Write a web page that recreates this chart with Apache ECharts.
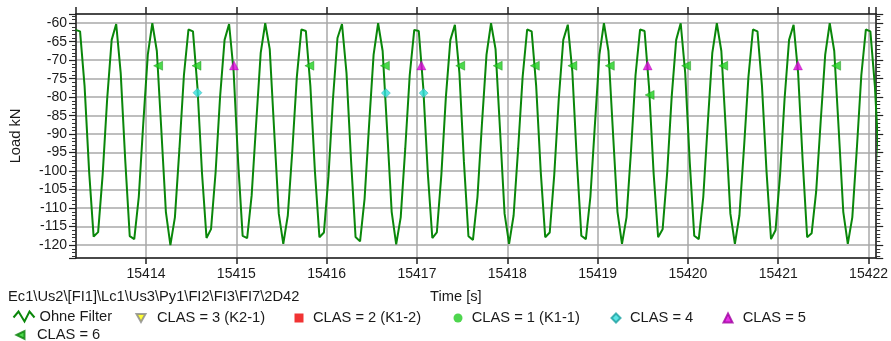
<!DOCTYPE html>
<html>
<head>
<meta charset="utf-8">
<script src="https://cdn.jsdelivr.net/npm/echarts@6/dist/echarts.min.js"></script>
<style>
  html, body { margin: 0; padding: 0; background: #fff; }
  #chart { width: 891px; height: 341px; }
</style>
</head>
<body>
<div id="chart"></div>
<script>
// sampled load signal, 20 Hz
const sampleStart = 15413.22
const sampleStep = 0.05
const loadValues = [
  -61.8, -62.2, -77, -100, -117.7, -116.5, -101, -80.5, -64.5, -60.2, -73.5, -97, -117.6, -118.4, -107, -87, -68.5, -60.0, -67.5, -89, -111, -120, -112.5, -94, -74,
  -61.7, -62.2, -77.5, -100.5, -118.1, -115.7, -100.5, -80, -64.5, -60.2, -73, -97.5, -117.5, -118.1, -106.5, -87, -68, -60.0, -67, -89.5, -111.5, -119.7, -112, -94.5, -74.5,
  -61.7, -62.1, -77, -100, -117.9, -116.6, -101.5, -80.5, -64, -60.2, -73.5, -97, -117.8, -119, -107.5, -87.5, -68.5, -60.0, -67.5, -89, -111, -119.8, -112.5, -94, -74,
  -61.8, -62.1, -77.5, -100.5, -118.1, -116.6, -101, -80, -64.5, -60.4, -73.5, -97.5, -117.6, -118.6, -107, -87, -68.5, -60.0, -67, -89, -111.5, -119.7, -112, -94, -74.5,
  -61.7, -62.2, -77, -100, -117.9, -116.6, -101, -80.5, -64.5, -60.4, -73, -97, -117.5, -118.4, -107, -87.5, -68.5, -60.0, -67.5, -89.5, -111, -119.7, -112.5, -94.5, -74,
  -61.7, -62.1, -77.5, -100.5, -117.9, -115.7, -100.5, -80, -64.5, -60.0, -73.5, -97.5, -117.5, -118.4, -107, -87, -68, -60.0, -67.5, -89, -111.5, -119.7, -112, -94, -74.5,
  -61.7, -62.2, -77, -100, -118.4, -116, -101, -80.5, -64.5, -60.4, -73.5, -97, -117.9, -116.8, -105.5, -86.5, -68.5, -60.0, -67.5, -89, -111, -119.7, -112.5, -94, -74,
  -61.7, -62.2, -77, -100
]

// classified events
const clas6Times = [15414.134, 15414.559, 15415.809, 15416.645, 15417.479, 15417.894, 15418.305, 15418.721, 15419.135, 15419.576, 15419.980, 15420.391, 15421.641]
const clas6Loads = [-71.5, -71.5, -71.5, -71.5, -71.5, -71.5, -71.5, -71.5, -71.5, -79.4, -71.5, -71.5, -71.5]
const clas4Times = [15414.570, 15416.656, 15417.074]
const clas4Loads = [-78.8, -78.9, -78.9]
const clas5Times = [15414.974, 15417.049, 15419.554, 15421.218]
const clas5Loads = [-71.4, -71.4, -71.4, -71.4]

const xMin = 15413.225
const xMax = 15422.085
const yMin = -123.5
const yMax = -57.5

const lineColor = '#0a870a'
const fontFam = '"Liberation Sans", Arial, sans-serif'
const textCol = '#1a1a1a'
const smallFont = 14.7

const pairs = (xs, ys) => xs.map((x, i) => [x, ys[i]])
const lineData = loadValues.map((v, i) => [sampleStart + i * sampleStep, v])

const iconWave = 'path://M0,7 L5,1 L11,11 L16,1 L21,7'
const iconDown = 'path://M0,0 L10,0 L5,9 Z'
const iconLeft = 'path://M0,5 L10,0 L10,10 Z'

// one legend per entry so each sits where the original puts it
function legendItem (name, icon, left, top, size, textPad, extra) {
  return Object.assign({
    data: [{ name: name, icon: icon }],
    left: left,
    top: top,
    padding: 0,
    itemWidth: size,
    itemHeight: size,
    selectedMode: false,
    textStyle: { fontSize: smallFont, color: textCol, fontFamily: fontFam, padding: [0, 0, 0, textPad] }
  }, extra || {})
}

const gridLine = { show: true, lineStyle: { color: '#a9a9a9', width: 1.5 } }
const axisLn = { show: true, lineStyle: { color: '#222', width: 1.5 } }

const chart = echarts.init(document.getElementById('chart'))
chart.setOption({
  animation: false,
  textStyle: { fontFamily: fontFam },
  grid: { left: 73, right: 14, top: 14, bottom: 83 },
  graphic: [
    { type: 'text', left: 8, top: 289, style: { text: 'Ec1\\Us2\\[FI1]\\Lc1\\Us3\\Py1\\FI2\\FI3\\FI7\\2D42', fontSize: smallFont, fill: textCol, fontFamily: fontFam } },
    { type: 'text', left: 430, top: 289, style: { text: 'Time [s]', fontSize: smallFont, fill: textCol, fontFamily: fontFam } }
  ],
  legend: [
    legendItem('Ohne Filter', iconWave, 11, 309, 21, 0, { itemHeight: 12, itemStyle: { color: 'none', borderColor: lineColor, borderWidth: 2 } }),
    legendItem('CLAS = 3 (K2-1)', iconDown, 135.5, 310.5, 9, 6.5),
    legendItem('CLAS = 2 (K1-2)', 'rect', 294.5, 310.5, 9, 4.5),
    legendItem('CLAS = 1 (K1-1)', 'circle', 453.5, 310.5, 9, 4.2),
    legendItem('CLAS = 4', 'diamond', 610.5, 310.5, 9, 4.5),
    legendItem('CLAS = 5', 'triangle', 722.5, 310.5, 9, 5.2),
    legendItem('CLAS = 6', iconLeft, 15.5, 327.5, 8, 7.5)
  ],
  xAxis: [
    {
      type: 'value', min: xMin, max: xMax, splitNumber: 9,
      axisLine: axisLn,
      axisTick: { show: true, length: 6, lineStyle: { color: '#222', width: 1.5 } },
      axisLabel: { showMinLabel: false, showMaxLabel: false, margin: 9, fontSize: 14, color: textCol, formatter: v => String(v) },
      splitLine: gridLine
    },
    {
      type: 'value', position: 'top', min: xMin, max: xMax, splitNumber: 9,
      axisLine: axisLn,
      axisTick: { show: true, length: 7, lineStyle: { color: '#222', width: 1.5 } },
      axisLabel: { show: false },
      splitLine: { show: false }
    }
  ],
  yAxis: [
    {
      type: 'value', min: yMin, max: yMax, splitNumber: 13,
      name: 'Load kN', nameLocation: 'middle', nameRotate: 90, nameGap: 53,
      nameTextStyle: { fontSize: smallFont, color: textCol },
      axisLine: axisLn,
      axisTick: { show: true, length: 7, lineStyle: { color: '#222', width: 1.2 } },
      minorTick: { show: true, splitNumber: 5, length: 4, lineStyle: { color: '#333', width: 1 } },
      axisLabel: { showMinLabel: false, showMaxLabel: false, margin: 9, fontSize: 14, color: textCol },
      splitLine: gridLine
    },
    {
      type: 'value', position: 'right', min: yMin, max: yMax, splitNumber: 13,
      axisLine: axisLn,
      axisTick: { show: true, length: 7, lineStyle: { color: '#222', width: 1.2 } },
      minorTick: { show: true, splitNumber: 5, length: 4, lineStyle: { color: '#333', width: 1 } },
      axisLabel: { show: false },
      splitLine: { show: false }
    }
  ],
  series: [
    {
      name: 'Ohne Filter', type: 'line', data: lineData, symbol: 'none',
      lineStyle: { color: lineColor, width: 2 }, itemStyle: { color: lineColor }, z: 2
    },
    { name: 'CLAS = 3 (K2-1)', type: 'scatter', data: [], symbol: iconDown, symbolSize: 9, itemStyle: { color: '#ffff00', borderColor: '#888', borderWidth: 0.5 } },
    { name: 'CLAS = 2 (K1-2)', type: 'scatter', data: [], symbol: 'rect', symbolSize: 9, itemStyle: { color: '#ee0000' } },
    { name: 'CLAS = 1 (K1-1)', type: 'scatter', data: [], symbol: 'circle', symbolSize: 9, itemStyle: { color: '#22cc22' } },
    { name: 'CLAS = 4', type: 'scatter', data: pairs(clas4Times, clas4Loads), symbol: 'diamond', symbolSize: 9, itemStyle: { color: '#33dddd', borderColor: '#1aa0a0', borderWidth: 0.5 }, z: 4 },
    { name: 'CLAS = 5', type: 'scatter', data: pairs(clas5Times, clas5Loads), symbol: 'triangle', symbolSize: 9, itemStyle: { color: '#e000e0', borderColor: '#a000a0', borderWidth: 0.5 }, z: 4 },
    { name: 'CLAS = 6', type: 'scatter', data: pairs(clas6Times, clas6Loads), symbol: iconLeft, symbolSize: 9, itemStyle: { color: '#1fd01f', borderColor: '#0a800a', borderWidth: 0.5 }, z: 4 }
  ]
})
</script>
</body>
</html>
